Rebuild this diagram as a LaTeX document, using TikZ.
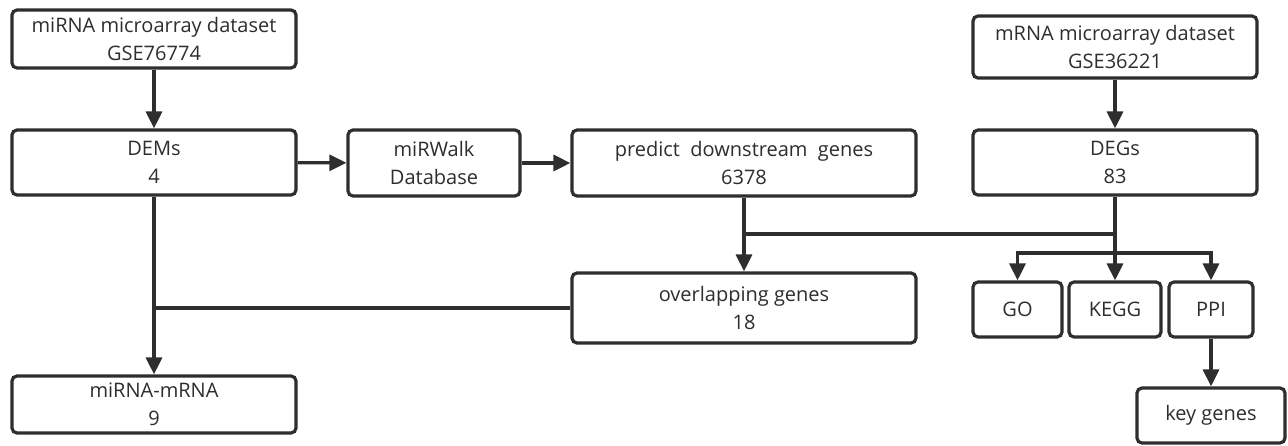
\documentclass[tikz,border=0pt]{standalone}
\usepackage{fontspec}
\setmainfont{Open Sans}
\usetikzlibrary{arrows.meta}
\definecolor{ink}{HTML}{2E2E2E}
\tikzset{
  box/.style={draw=ink, line width=3.2pt, rounded corners=5pt, fill=white, align=center, text=ink,
    font=\fontsize{20}{28}\selectfont, inner sep=0pt},
  conn/.style={draw=ink, line width=3.2pt},
  arr/.style={conn, -{Triangle[length=17pt,width=16pt]}},
}
\begin{document}
\begin{tikzpicture}[x=1pt,y=-1pt]
\useasboundingbox (0,0) rectangle (1288,445);
\node[box, minimum width=284pt, minimum height=58pt] (ds1) at (154,39) {miRNA microarray dataset\\GSE76774};
\node[box, minimum width=284pt, minimum height=65pt] (dems) at (154,162.5) {DEMs\\4};
\node[box, minimum width=172pt, minimum height=66pt] (mirwalk) at (434,163) {miRWalk\\Database};
\node[box, minimum width=344pt, minimum height=66pt] (pred) at (744,163) {predict\ \ downstream\ \ genes\\6378};
\node[box, minimum width=284pt, minimum height=62pt] (ds2) at (1115,47) {mRNA microarray dataset\\GSE36221};
\node[box, minimum width=284pt, minimum height=65pt] (degs) at (1115,162.5) {DEGs\\83};
\node[box, minimum width=344pt, minimum height=70pt] (ovl) at (744,308) {overlapping genes\\18};
\node[box, minimum width=89pt, minimum height=55pt] (go) at (1017.5,309.5) {GO};
\node[box, minimum width=92pt, minimum height=55pt] (kegg) at (1115,309.5) {KEGG};
\node[box, minimum width=84pt, minimum height=55pt] (ppi) at (1211,309.5) {PPI};
\node[box, minimum width=148pt, minimum height=55pt] (key) at (1211,415.5) {key genes};
\node[box, minimum width=284pt, minimum height=57pt] (mm) at (154,404.5) {miRNA-mRNA\\9};
\coordinate (j1) at (744,234);
\coordinate (j2) at (1115,234);
\coordinate (j3) at (1115,253);
\coordinate (jl) at (154,308);
\draw[arr] (ds1) -- (dems);
\draw[arr] (dems) -- (mirwalk);
\draw[arr] (mirwalk) -- (pred);
\draw[arr] (ds2) -- (degs);
\draw[arr] (pred) -- (ovl);
\draw[conn] (degs.south) -- (j3);
\draw[conn] (j1) -- (j2);
\draw[arr] (j3) -| (go.north);
\draw[arr] (j3) -- (kegg.north);
\draw[arr] (j3) -| (ppi.north);
\draw[arr] (ppi) -- (key);
\draw[arr] (dems) -- (mm);
\draw[conn] (ovl.west) -- (jl);
\end{tikzpicture}
\end{document}
